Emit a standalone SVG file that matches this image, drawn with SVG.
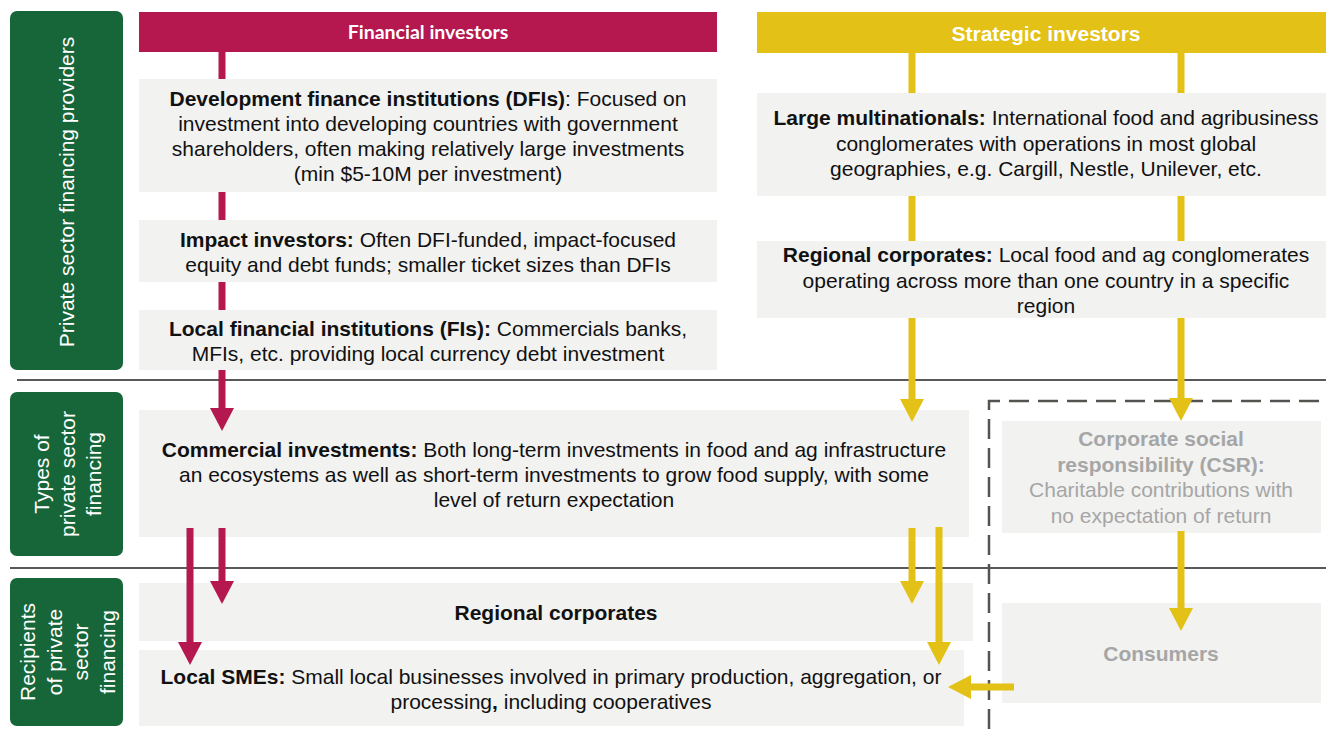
<svg xmlns="http://www.w3.org/2000/svg" width="1326" height="729" viewBox="0 0 1326 729">
  <style>
    .side { fill: #17663A; }
    .box { fill: #F2F2F1; }
    .t { font-family: "Liberation Sans", Arial, sans-serif; font-size: 21px; fill: #111; text-anchor: middle; }
    .b { font-weight: bold; }
    .st { font-family: "Liberation Sans", Arial, sans-serif; font-size: 21px; fill: #fff; text-anchor: middle; }
    .muted { fill: #A6A6A6; }
    .sep { stroke: #595959; stroke-width: 2; fill: none; }
    .dash { stroke: #55534F; stroke-width: 2.5; fill: none; stroke-dasharray: 20 9; }
    .red { stroke: #B5174F; stroke-width: 7; fill: none; }
    .yel { stroke: #E3C116; stroke-width: 7; fill: none; }
    .ra { marker-end: url(#headRed); }
    .ya { marker-end: url(#headYel); }
  </style>
  <defs>
    <marker id="headRed" markerUnits="userSpaceOnUse" markerWidth="23" markerHeight="24" refX="0" refY="12" orient="auto">
      <path d="M0,0 L23,12 L0,24 Z" fill="#B5174F"/>
    </marker>
    <marker id="headYel" markerUnits="userSpaceOnUse" markerWidth="23" markerHeight="24" refX="0" refY="12" orient="auto">
      <path d="M0,0 L23,12 L0,24 Z" fill="#E3C116"/>
    </marker>
  </defs>

  <rect width="1326" height="729" fill="#fff"/>

  <!-- row separators and CSR boundary -->
  <g id="frame">
    <line class="sep" x1="17" y1="380" x2="1326" y2="380"/>
    <line class="sep" x1="10" y1="568" x2="1326" y2="568"/>
    <path class="dash" d="M989,729 V401 H1326"/>
  </g>

  <!-- row labels -->
  <g id="label-providers">
    <rect class="side" x="10" y="11" width="113" height="359" rx="7"/>
    <text class="st" transform="translate(74,192) rotate(-90)">Private sector financing providers</text>
  </g>
  <g id="label-types">
    <rect class="side" x="10" y="392" width="113" height="164" rx="7"/>
    <text class="st" transform="translate(49,474) rotate(-90)"><tspan x="0" y="0">Types of</tspan><tspan x="0" y="26">private sector</tspan><tspan x="0" y="52">financing</tspan></text>
  </g>
  <g id="label-recipients">
    <rect class="side" x="10" y="578" width="113" height="148" rx="7"/>
    <text class="st" transform="translate(35,652) rotate(-90)"><tspan x="0" y="0">Recipients</tspan><tspan x="0" y="26.5">of private</tspan><tspan x="0" y="53">sector</tspan><tspan x="0" y="79.5">financing</tspan></text>
  </g>

  <!-- investor headers -->
  <g id="financial-investors">
    <rect x="139" y="12" width="578" height="40" fill="#B5174F"/>
    <text x="428" y="39" font-family="Lato, 'Open Sans', sans-serif" font-size="19.5" font-weight="bold" fill="#fff" text-anchor="middle">Financial investors</text>
  </g>
  <g id="strategic-investors">
    <rect x="757" y="12" width="569" height="41" fill="#E3C116"/>
    <text x="1046" y="41" font-family="'Liberation Sans', Arial, sans-serif" font-size="21" font-weight="bold" fill="#fff" text-anchor="middle">Strategic investors</text>
  </g>

  <!-- providers -->
  <g id="dfi">
    <rect class="box" x="139" y="79" width="578" height="113"/>
    <text class="t"><tspan x="428" y="106"><tspan class="b">Development finance institutions (DFIs)</tspan>: Focused on</tspan><tspan x="428" y="131">investment into developing countries with government</tspan><tspan x="428" y="156">shareholders, often making relatively large investments</tspan><tspan x="428" y="181">(min $5-10M per investment)</tspan></text>
  </g>
  <g id="impact">
    <rect class="box" x="139" y="220" width="578" height="62"/>
    <text class="t"><tspan x="428" y="247"><tspan class="b">Impact investors:</tspan> Often DFI-funded, impact-focused</tspan><tspan x="428" y="272">equity and debt funds; smaller ticket sizes than DFIs</tspan></text>
  </g>
  <g id="local-fis">
    <rect class="box" x="139" y="310" width="578" height="60"/>
    <text class="t"><tspan x="428" y="336"><tspan class="b">Local financial institutions (FIs):</tspan> Commercials banks,</tspan><tspan x="428" y="361">MFIs, etc. providing local currency debt investment</tspan></text>
  </g>
  <g id="multinationals">
    <rect class="box" x="757" y="93" width="569" height="103"/>
    <text class="t"><tspan x="1046" y="125"><tspan class="b">Large multinationals:</tspan> International food and agribusiness</tspan><tspan x="1046" y="150.5">conglomerates with operations in most global</tspan><tspan x="1046" y="176">geographies, e.g. Cargill, Nestle, Unilever, etc.</tspan></text>
  </g>
  <g id="regional-providers">
    <rect class="box" x="757" y="241" width="569" height="77"/>
    <text class="t"><tspan x="1046" y="262"><tspan class="b">Regional corporates:</tspan> Local food and ag conglomerates</tspan><tspan x="1046" y="288">operating across more than one country in a specific</tspan><tspan x="1046" y="313">region</tspan></text>
  </g>

  <!-- financing types -->
  <g id="commercial">
    <rect class="box" x="139" y="410" width="830" height="127"/>
    <text class="t"><tspan x="554" y="457"><tspan class="b">Commercial investments:</tspan> Both long-term investments in food and ag infrastructure</tspan><tspan x="554" y="482">an ecosystems as well as short-term investments to grow food supply, with some</tspan><tspan x="554" y="507">level of return expectation</tspan></text>
  </g>
  <g id="csr">
    <rect class="box" x="1002" y="421" width="319" height="112"/>
    <text class="t muted"><tspan class="b" x="1161" y="446">Corporate social</tspan><tspan class="b" x="1161" y="472">responsibility (CSR):</tspan><tspan x="1161" y="497">Charitable contributions with</tspan><tspan x="1161" y="523">no expectation of return</tspan></text>
  </g>

  <!-- recipients -->
  <g id="regional-recipients">
    <rect class="box" x="139" y="583" width="834" height="58"/>
    <text class="t b" x="556" y="620">Regional corporates</text>
  </g>
  <g id="smes">
    <rect class="box" x="139" y="650" width="825" height="76"/>
    <text class="t"><tspan x="551" y="684"><tspan class="b">Local SMEs:</tspan> Small local businesses involved in primary production, aggregation, or</tspan><tspan x="551" y="709">processing<tspan class="b">,</tspan> including cooperatives</tspan></text>
  </g>
  <g id="consumers">
    <rect class="box" x="1002" y="603" width="319" height="100"/>
    <text class="t muted b" x="1161" y="661">Consumers</text>
  </g>

  <!-- flows -->
  <g id="connectors">
    <path class="red" d="M222,52 V79 M222,192 V220 M222,282 V310"/>
    <path class="red ra" d="M222,370 V408"/>
    <path class="red ra" d="M222,528 V581"/>
    <path class="red ra" d="M190,528 V642"/>

    <path class="yel" d="M912,53 V93 M912,196 V241 M1181,53 V93 M1181,196 V241"/>
    <path class="yel ya" d="M912,318 V399"/>
    <path class="yel ya" d="M1181,318 V398"/>
    <path class="yel ya" d="M912,528 V581"/>
    <path class="yel ya" d="M939,527 V642"/>
    <path class="yel ya" d="M1181,531 V608"/>
    <path class="yel ya" d="M1014,687 H971"/>
  </g>
</svg>
